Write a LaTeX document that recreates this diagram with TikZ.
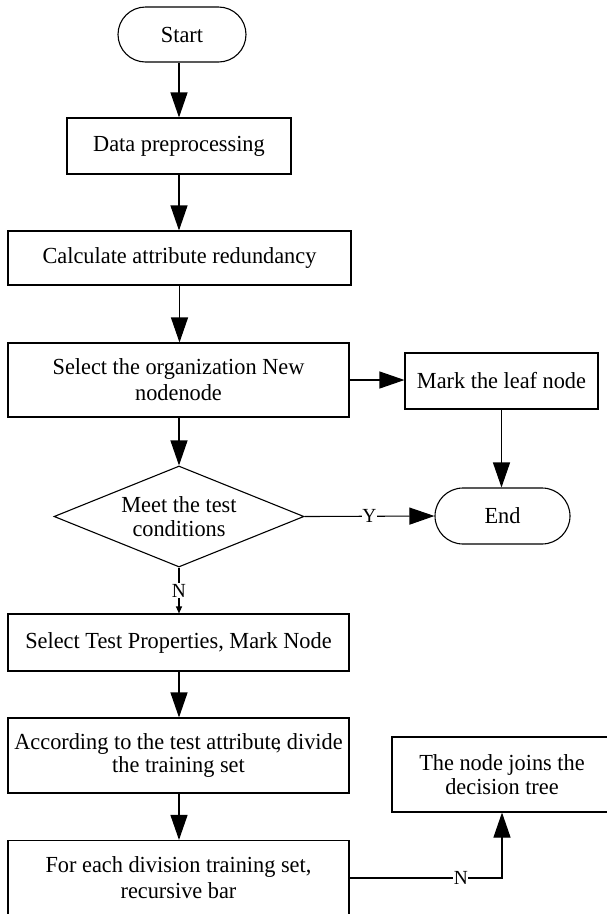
\documentclass[tikz,border=0pt]{standalone}
\usepackage{fontspec}
\setmainfont[FakeStretch=0.97]{Liberation Serif}
\usetikzlibrary{arrows.meta,shapes.geometric,shapes.misc}

\begin{document}
\begin{tikzpicture}[x=1pt,y=-1pt,
  every node/.style={font=\fontsize{23}{25}\selectfont, inner sep=0pt},
  proc/.style={draw, line width=1.1pt, align=center},
  term/.style={draw, rounded rectangle, line width=1.1pt, minimum width=128pt, minimum height=55pt},
  decision/.style={draw, diamond, line width=1.1pt, minimum width=250pt, minimum height=101pt},
  flow/.style={line width=1.1pt, -{Triangle[length=25pt,width=17pt]}},
  smallflow/.style={line width=1.1pt, -{Triangle[length=7pt,width=6pt]}},
  branch/.style={fill=white, font=\fontsize{20}{24}\selectfont, inner sep=0.5pt}]

\useasboundingbox (0,0) rectangle (606,914);

% main column
\node[term] (start) at (182,34.5) {Start};
\node[proc, minimum width=224pt, minimum height=56pt] (prep) at (179,146) {Data preprocessing};
\node[proc, minimum width=343pt, minimum height=54pt] (redund) at (179.5,258) {Calculate attribute redundancy};
\node[proc, minimum width=341pt, minimum height=74pt, font=\fontsize{23}{26}\selectfont] (select) at (178.5,380) {Select the organization New\\nodenode};
\node[decision] (cond) at (179,516.5) {};
\node[align=center, font=\fontsize{23}{24}\selectfont] (condtext) at (cond.center) {Meet the test\\conditions};
\node[proc, minimum width=341pt, minimum height=57pt] (testprop) at (178.5,642.5) {Select Test Properties, Mark Node};
\node[proc, minimum width=341pt, minimum height=75pt, font=\fontsize{23}{23.5}\selectfont] (divide) at (178.5,755.5) {According to the test attribute\kern-5pt, divide\\the training set};
\node[proc, minimum width=341pt, minimum height=75pt, font=\fontsize{23}{26}\selectfont] (recur) at (178.5,878) {For each division training set,\\recursive bar};

% right column
\node[proc, minimum width=193pt, minimum height=56pt] (leaf) at (501.5,381) {Mark the leaf node};
\node[term, minimum width=135pt, minimum height=56pt] (end) at (502.5,516) {End};
\node[proc, minimum width=220pt, minimum height=75pt, font=\fontsize{23}{24}\selectfont] (join) at (502,774.5) {The node joins the\\decision tree};

% connectors
\draw[flow] (start.south -| prep.north) -- (prep.north);
\draw[flow] (prep.south) -- (prep.south |- redund.north);
\draw[flow] (redund.south) -- (redund.south |- select.north);
\draw[flow] (select.east) -- (select.east -| leaf.west);
\draw[flow] (leaf.south) -- (leaf.south |- end.north);
\draw[flow] (select.south -| cond.north) -- (cond.north);
\draw[flow] (cond.east) -- node[branch] {Y} (end.west);
\draw[smallflow] (cond.south) -- node[branch] {N} (cond.south |- testprop.north);
\draw[flow] (testprop.south -| cond.south) -- (cond.south |- divide.north);
\draw[flow] (divide.south -| cond.south) -- (cond.south |- recur.north);
\draw[flow] (recur.east) -- node[branch, pos=0.73] {N} (recur.east -| join.south) -- (join.south);
\end{tikzpicture}
\end{document}
